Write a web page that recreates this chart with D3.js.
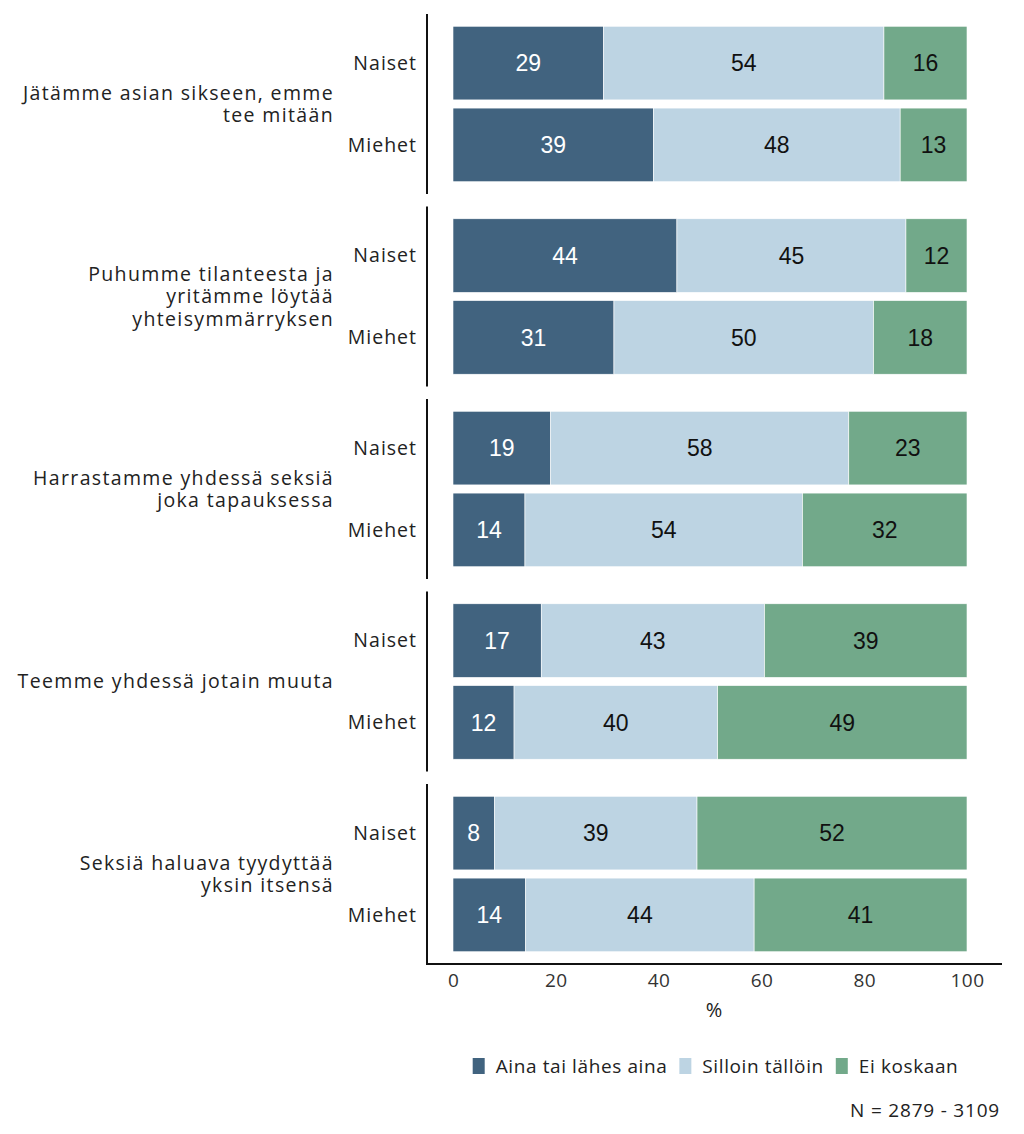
<!DOCTYPE html>
<html><head><meta charset="utf-8">
<script src="https://cdn.jsdelivr.net/npm/d3@7"></script>
<style>body{margin:0;background:#fff}svg{display:block}</style>
</head><body>
<svg id="c" width="1024" height="1134"></svg>
<script>
const categories = [
  "Jätämme asian sikseen, emme\ntee mitään",
  "Puhumme tilanteesta ja\nyritämme löytää\nyhteisymmärryksen",
  "Harrastamme yhdessä seksiä\njoka tapauksessa",
  "Teemme yhdessä jotain muuta",
  "Seksiä haluava tyydyttää\nyksin itsensä"
];
const genders = ["Naiset", "Miehet"];
const seriesNames = ["Aina tai lähes aina", "Silloin tällöin", "Ei koskaan"];
// order: [cat0 Naiset, cat0 Miehet, cat1 Naiset, ...]
const aina     = [29, 39, 44, 31, 19, 14, 17, 12, 8, 14];
const silloin  = [54, 48, 45, 50, 58, 54, 43, 40, 39, 44];
const eiKoskaan= [16, 13, 12, 18, 23, 32, 39, 49, 52, 41];
const xTicks = [0, 20, 40, 60, 80, 100];
const colors = ["#41637f", "#bdd4e3", "#72a98a"];
const labelColors = ["#ffffff", "#111111", "#111111"];

const svg = d3.select("#c");
const FONT = "'Open Sans', Lato, sans-serif";
const x = d3.scaleLinear().domain([0, 100]).range([453, 967]);
const panelLeft = 427, panelRight = 1002;
const yGroup = d3.scaleBand().domain(d3.range(categories.length)).range([14, 964]).paddingInner(0.065).paddingOuter(0);
const seriesVals = [aina, silloin, eiKoskaan];

categories.forEach((cat, ci) => {
  const top = yGroup(ci), h = yGroup.bandwidth();
  const yb = d3.scaleBand().domain(genders).range([top, top + h]).paddingInner(0.1).paddingOuter(0.15);
  const g = svg.append("g");
  g.append("line").attr("x1", panelLeft).attr("x2", panelLeft).attr("y1", top).attr("y2", top + h)
    .attr("stroke", "#111").attr("stroke-width", 2);
  const lines = cat.split("\n");
  const lh = 22.5;
  const cy = top + h / 2;
  const t = g.append("text").attr("x", 334).attr("text-anchor", "end")
    .attr("font-family", FONT).attr("font-size", 19.5).attr("letter-spacing", 1.35).attr("fill", "#222");
  lines.forEach((ln, li) => {
    t.append("tspan").attr("x", 334).attr("y", cy + (li - (lines.length - 1) / 2) * lh).attr("dy", "0.35em").text(ln);
  });
  genders.forEach((gen, gi) => {
    const idx = ci * 2 + gi;
    const vals = seriesVals.map(s => s[idx]);
    const total = d3.sum(vals);
    let cum = 0;
    const by = yb(gen), bh = yb.bandwidth();
    g.append("text").attr("x", 417).attr("y", by + bh / 2).attr("dy", "0.35em").attr("text-anchor", "end")
      .attr("font-family", FONT).attr("font-size", 19.5).attr("letter-spacing", 1.0).attr("fill", "#222").text(gen);
    vals.forEach((v, si) => {
      const x0 = x(cum / total * 100), x1 = x((cum + v) / total * 100);
      cum += v;
      g.append("rect").attr("x", x0).attr("y", by).attr("width", x1 - x0).attr("height", bh)
        .attr("fill", colors[si]).attr("stroke", "#fff").attr("stroke-width", 0.6);
      g.append("text").attr("x", (x0 + x1) / 2).attr("y", by + bh / 2).attr("dy", "0.36em")
        .attr("text-anchor", "middle").attr("font-family", "'Liberation Sans', Arial, sans-serif")
        .attr("font-size", 23).attr("fill", labelColors[si]).text(v);
    });
  });
});

// x axis
const axisY = 964;
svg.append("line").attr("x1", panelLeft - 1).attr("x2", panelRight).attr("y1", axisY).attr("y2", axisY)
  .attr("stroke", "#111").attr("stroke-width", 2);
const ax = svg.append("g").attr("transform", `translate(0,${axisY})`)
  .call(d3.axisBottom(x).tickValues(xTicks).tickSize(0).tickPadding(10).tickFormat(d3.format("d")));
ax.select(".domain").remove();
ax.selectAll("text").attr("font-family", FONT).attr("font-size", 19).attr("letter-spacing", 0.4).attr("fill", "#333");
svg.append("text").attr("x", (x(0) + x(100)) / 2 + 4).attr("y", 1010).attr("dy", "0.35em").attr("text-anchor", "middle")
  .attr("font-family", FONT).attr("font-size", 20).attr("fill", "#222").text("%");

// legend, laid out from measured text widths and centred
const lg = svg.append("g");
let cx = 0;
const items = seriesNames.map((s, i) => {
  const it = lg.append("g").attr("transform", `translate(${cx},0)`);
  it.append("rect").attr("x", 0).attr("y", 1058).attr("width", 12).attr("height", 16).attr("fill", colors[i]);
  const tx = it.append("text").attr("x", 23).attr("y", 1066).attr("dy", "0.35em")
    .attr("font-family", FONT).attr("font-size", 19).attr("letter-spacing", 0.6).attr("fill", "#222").text(s);
  const w = tx.node().getComputedTextLength();
  cx += 23 + w + 12;
  return it;
});
const legendW = cx - 12;
lg.attr("transform", `translate(${715.5 - legendW / 2},0)`);

svg.append("text").attr("x", 1000).attr("y", 1110).attr("dy", "0.35em").attr("text-anchor", "end")
  .attr("font-family", FONT).attr("font-size", 19).attr("letter-spacing", 0.8).attr("fill", "#222").text("N = 2879 - 3109");
</script>
</body></html>
